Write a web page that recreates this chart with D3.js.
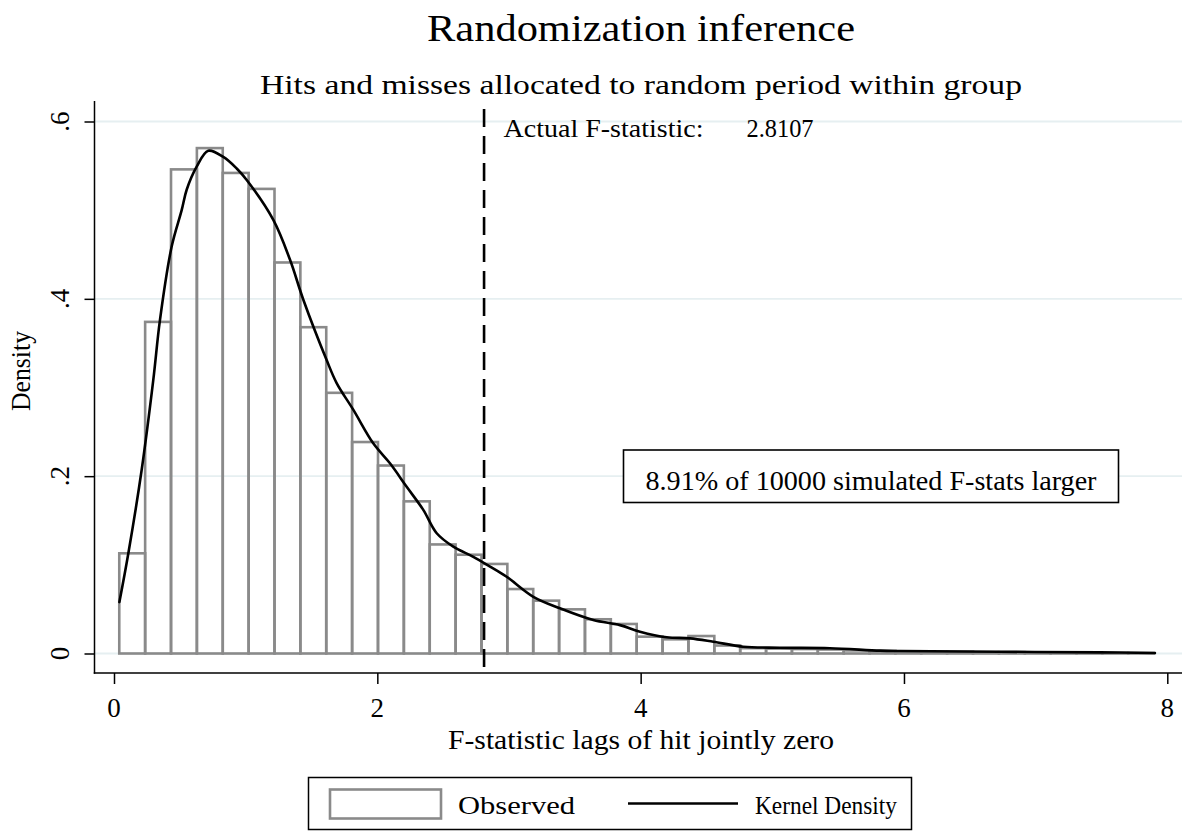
<!DOCTYPE html>
<html>
<head>
<meta charset="utf-8">
<script src="https://cdn.jsdelivr.net/npm/d3@7"></script>
<style>
  html, body { margin: 0; padding: 0; background: #fff; }
  svg { display: block; }
  text { font-family: "Liberation Serif", "Times New Roman", serif; fill: #000; }
</style>
</head>
<body>
<svg id="chart" width="1182" height="832"></svg>
<script>
// ---------------- DATA ----------------
const titleText = "Randomization inference";
const subtitleText = "Hits and misses allocated to random period within group";
const xAxisTitle = "F-statistic lags of hit jointly zero";
const yAxisTitle = "Density";
const xTickValues = [0, 2, 4, 6, 8];
const xTickLabels = ["0", "2", "4", "6", "8"];
const yTickValues = [0, 0.2, 0.4, 0.6];
const yTickLabels = ["0", ".2", ".4", ".6"];

// histogram: 40 bins between binMin and binMax, densities per bin
const binMin = 0.04;
const binMax = 7.9;
const binDensity = [
  0.113, 0.374, 0.546, 0.570, 0.542, 0.524, 0.441, 0.368, 0.294, 0.2385,
  0.212, 0.1716, 0.123, 0.1114, 0.101, 0.0727, 0.0596, 0.0498, 0.0386, 0.0333,
  0.019, 0.016, 0.0197, 0.0090, 0.0060, 0.0055, 0.0050, 0.0045, 0.0035, 0.0030,
  0.0025, 0.0020, 0.0020, 0.0015, 0.0015, 0.0010, 0.0010, 0.0008, 0.0005, 0.0005
];

// kernel density curve (x, density)
const kdeX = [0.041, 0.109, 0.21, 0.298, 0.349, 0.438, 0.514, 0.552,
  0.628, 0.716, 0.830, 0.932, 1.008, 1.210, 1.337, 1.438, 1.615, 1.691,
  1.817, 1.969, 2.096, 2.223, 2.349, 2.451, 2.577, 2.729, 2.856, 2.982,
  3.185, 3.387, 3.640, 3.843, 3.995, 4.198, 4.375, 4.552, 4.779, 5.057,
  5.437, 5.818, 5.970, 6.729, 7.488, 7.906];
const kdeY = [0.058, 0.113, 0.207, 0.308, 0.376, 0.459, 0.500, 0.523,
  0.549, 0.567, 0.560, 0.547, 0.534, 0.489, 0.444, 0.399, 0.331, 0.305,
  0.275, 0.237, 0.2145, 0.188, 0.162, 0.1356, 0.1205, 0.109, 0.098, 0.0866,
  0.064, 0.051, 0.0378, 0.032, 0.0246, 0.0183, 0.0171, 0.0133, 0.0077, 0.0065,
  0.0059, 0.0032, 0.0028, 0.0020, 0.0013, 0.0006];

const actualF = 2.8107;
const actualLabel = "Actual F-statistic:";
const actualValueLabel = "2.8107";
const boxLabel = "8.91% of 10000 simulated F-stats larger";
const legendLabels = ["Observed", "Kernel Density"];

// ---------------- LAYOUT ----------------
const svg = d3.select("#chart");
const x = d3.scaleLinear().domain([0, 8]).range([114, 1167.3]);
const y = d3.scaleLinear().domain([0, 0.6]).range([653.5, 121.5]);
const axisLeftX = 94.5, axisBottomY = 673, plotTop = 101, plotRight = 1182;
const barColor = "#8a8a8a";
const gridColor = "#e6eff1";

function addText(g, o) {
  const t = g.append("text")
    .attr("x", o.x).attr("y", o.y)
    .attr("font-size", o.size)
    .attr("text-anchor", o.anchor || "start")
    .text(o.text);
  if (o.rotate) t.attr("transform", `rotate(${o.rotate},${o.x},${o.y})`);
  if (o.width) t.attr("textLength", o.width).attr("lengthAdjust", "spacingAndGlyphs");
  return t;
}

// gridlines
svg.append("g").selectAll("line").data(yTickValues).join("line")
  .attr("x1", axisLeftX).attr("x2", plotRight)
  .attr("y1", d => y(d)).attr("y2", d => y(d))
  .attr("stroke", gridColor).attr("stroke-width", 1.8);

// histogram bars
const nb = binDensity.length;
const bw = (binMax - binMin) / nb;
const bins = binDensity.map((v, i) => ({ x0: binMin + i * bw, x1: binMin + (i + 1) * bw, v }));
svg.append("g").selectAll("rect").data(bins).join("rect")
  .attr("x", d => x(d.x0)).attr("width", d => x(d.x1) - x(d.x0))
  .attr("y", d => y(d.v)).attr("height", d => y(0) - y(d.v))
  .attr("fill", "none").attr("stroke", barColor).attr("stroke-width", 2.6);

// kernel density
const kde = kdeX.map((d, i) => [d, kdeY[i]]);
svg.append("path").datum(kde)
  .attr("fill", "none").attr("stroke", "#000").attr("stroke-width", 2.6)
  .attr("stroke-linejoin", "round").attr("stroke-linecap", "round")
  .attr("d", d3.line().x(d => x(d[0])).y(d => y(d[1])).curve(d3.curveCatmullRom.alpha(0.5)));

// dashed actual line
svg.append("line")
  .attr("x1", x(actualF)).attr("x2", x(actualF))
  .attr("y1", plotTop + 8).attr("y2", axisBottomY)
  .attr("stroke", "#000").attr("stroke-width", 2.6)
  .attr("stroke-dasharray", "18,9");

// annotation box
const annot = svg.append("g");
annot.append("rect").attr("x", 623.5).attr("y", 450).attr("width", 495).attr("height", 52.5)
  .attr("fill", "#fff").attr("stroke", "#000").attr("stroke-width", 1.6);
addText(annot, { x: 645.5, y: 490, size: 28, text: boxLabel, width: 451 });

addText(svg, { x: 503.5, y: 137, size: 26, text: actualLabel, width: 200 });
addText(svg, { x: 746.5, y: 137, size: 26, text: actualValueLabel, width: 67 });

// axes
const yAxis = d3.axisLeft(y).tickValues(yTickValues).tickFormat((d, i) => yTickLabels[i])
  .tickSize(10).tickSizeOuter(0);
const gy = svg.append("g").attr("transform", `translate(${axisLeftX},0)`).call(yAxis);
gy.select(".domain").remove();
gy.selectAll(".tick line").attr("stroke", "#000").attr("stroke-width", 1.5);
gy.selectAll(".tick text").remove();
svg.append("line").attr("x1", axisLeftX).attr("x2", axisLeftX).attr("y1", plotTop).attr("y2", axisBottomY + 0.75)
  .attr("stroke", "#000").attr("stroke-width", 1.5);
yTickValues.forEach((v, i) => addText(svg, { x: 69, y: y(v), size: 27, text: yTickLabels[i], anchor: "middle", rotate: -90 }));

const xAxis = d3.axisBottom(x).tickValues(xTickValues).tickFormat((d, i) => xTickLabels[i])
  .tickSize(11).tickSizeOuter(0);
const gx = svg.append("g").attr("transform", `translate(0,${axisBottomY})`).call(xAxis);
gx.select(".domain").remove();
gx.selectAll(".tick line").attr("stroke", "#000").attr("stroke-width", 1.5);
gx.selectAll(".tick text").remove();
svg.append("line").attr("x1", axisLeftX - 0.75).attr("x2", plotRight).attr("y1", axisBottomY).attr("y2", axisBottomY)
  .attr("stroke", "#000").attr("stroke-width", 1.5);
xTickValues.forEach((v, i) => addText(svg, { x: x(v), y: 717, size: 27, text: xTickLabels[i], anchor: "middle" }));

// axis titles
addText(svg, { x: 641, y: 749, size: 27, text: xAxisTitle, anchor: "middle", width: 386 });
addText(svg, { x: 30, y: 371, size: 27, text: yAxisTitle, anchor: "middle", rotate: -90, width: 80 });

// titles
addText(svg, { x: 641, y: 41, size: 38, text: titleText, anchor: "middle", width: 428 });
addText(svg, { x: 641, y: 94, size: 28, text: subtitleText, anchor: "middle", width: 762 });

// legend
const lg = svg.append("g");
lg.append("rect").attr("x", 308.5).attr("y", 777.5).attr("width", 603).attr("height", 52)
  .attr("fill", "#fff").attr("stroke", "#000").attr("stroke-width", 1.5);
lg.append("rect").attr("x", 330).attr("y", 789.5).attr("width", 111).attr("height", 29)
  .attr("fill", "none").attr("stroke", barColor).attr("stroke-width", 2.6);
addText(lg, { x: 458, y: 814, size: 26, text: legendLabels[0], width: 117 });
lg.append("line").attr("x1", 628).attr("x2", 738).attr("y1", 803.5).attr("y2", 803.5)
  .attr("stroke", "#000").attr("stroke-width", 2.4);
addText(lg, { x: 755, y: 814, size: 26, text: legendLabels[1], width: 142 });
</script>
</body>
</html>
